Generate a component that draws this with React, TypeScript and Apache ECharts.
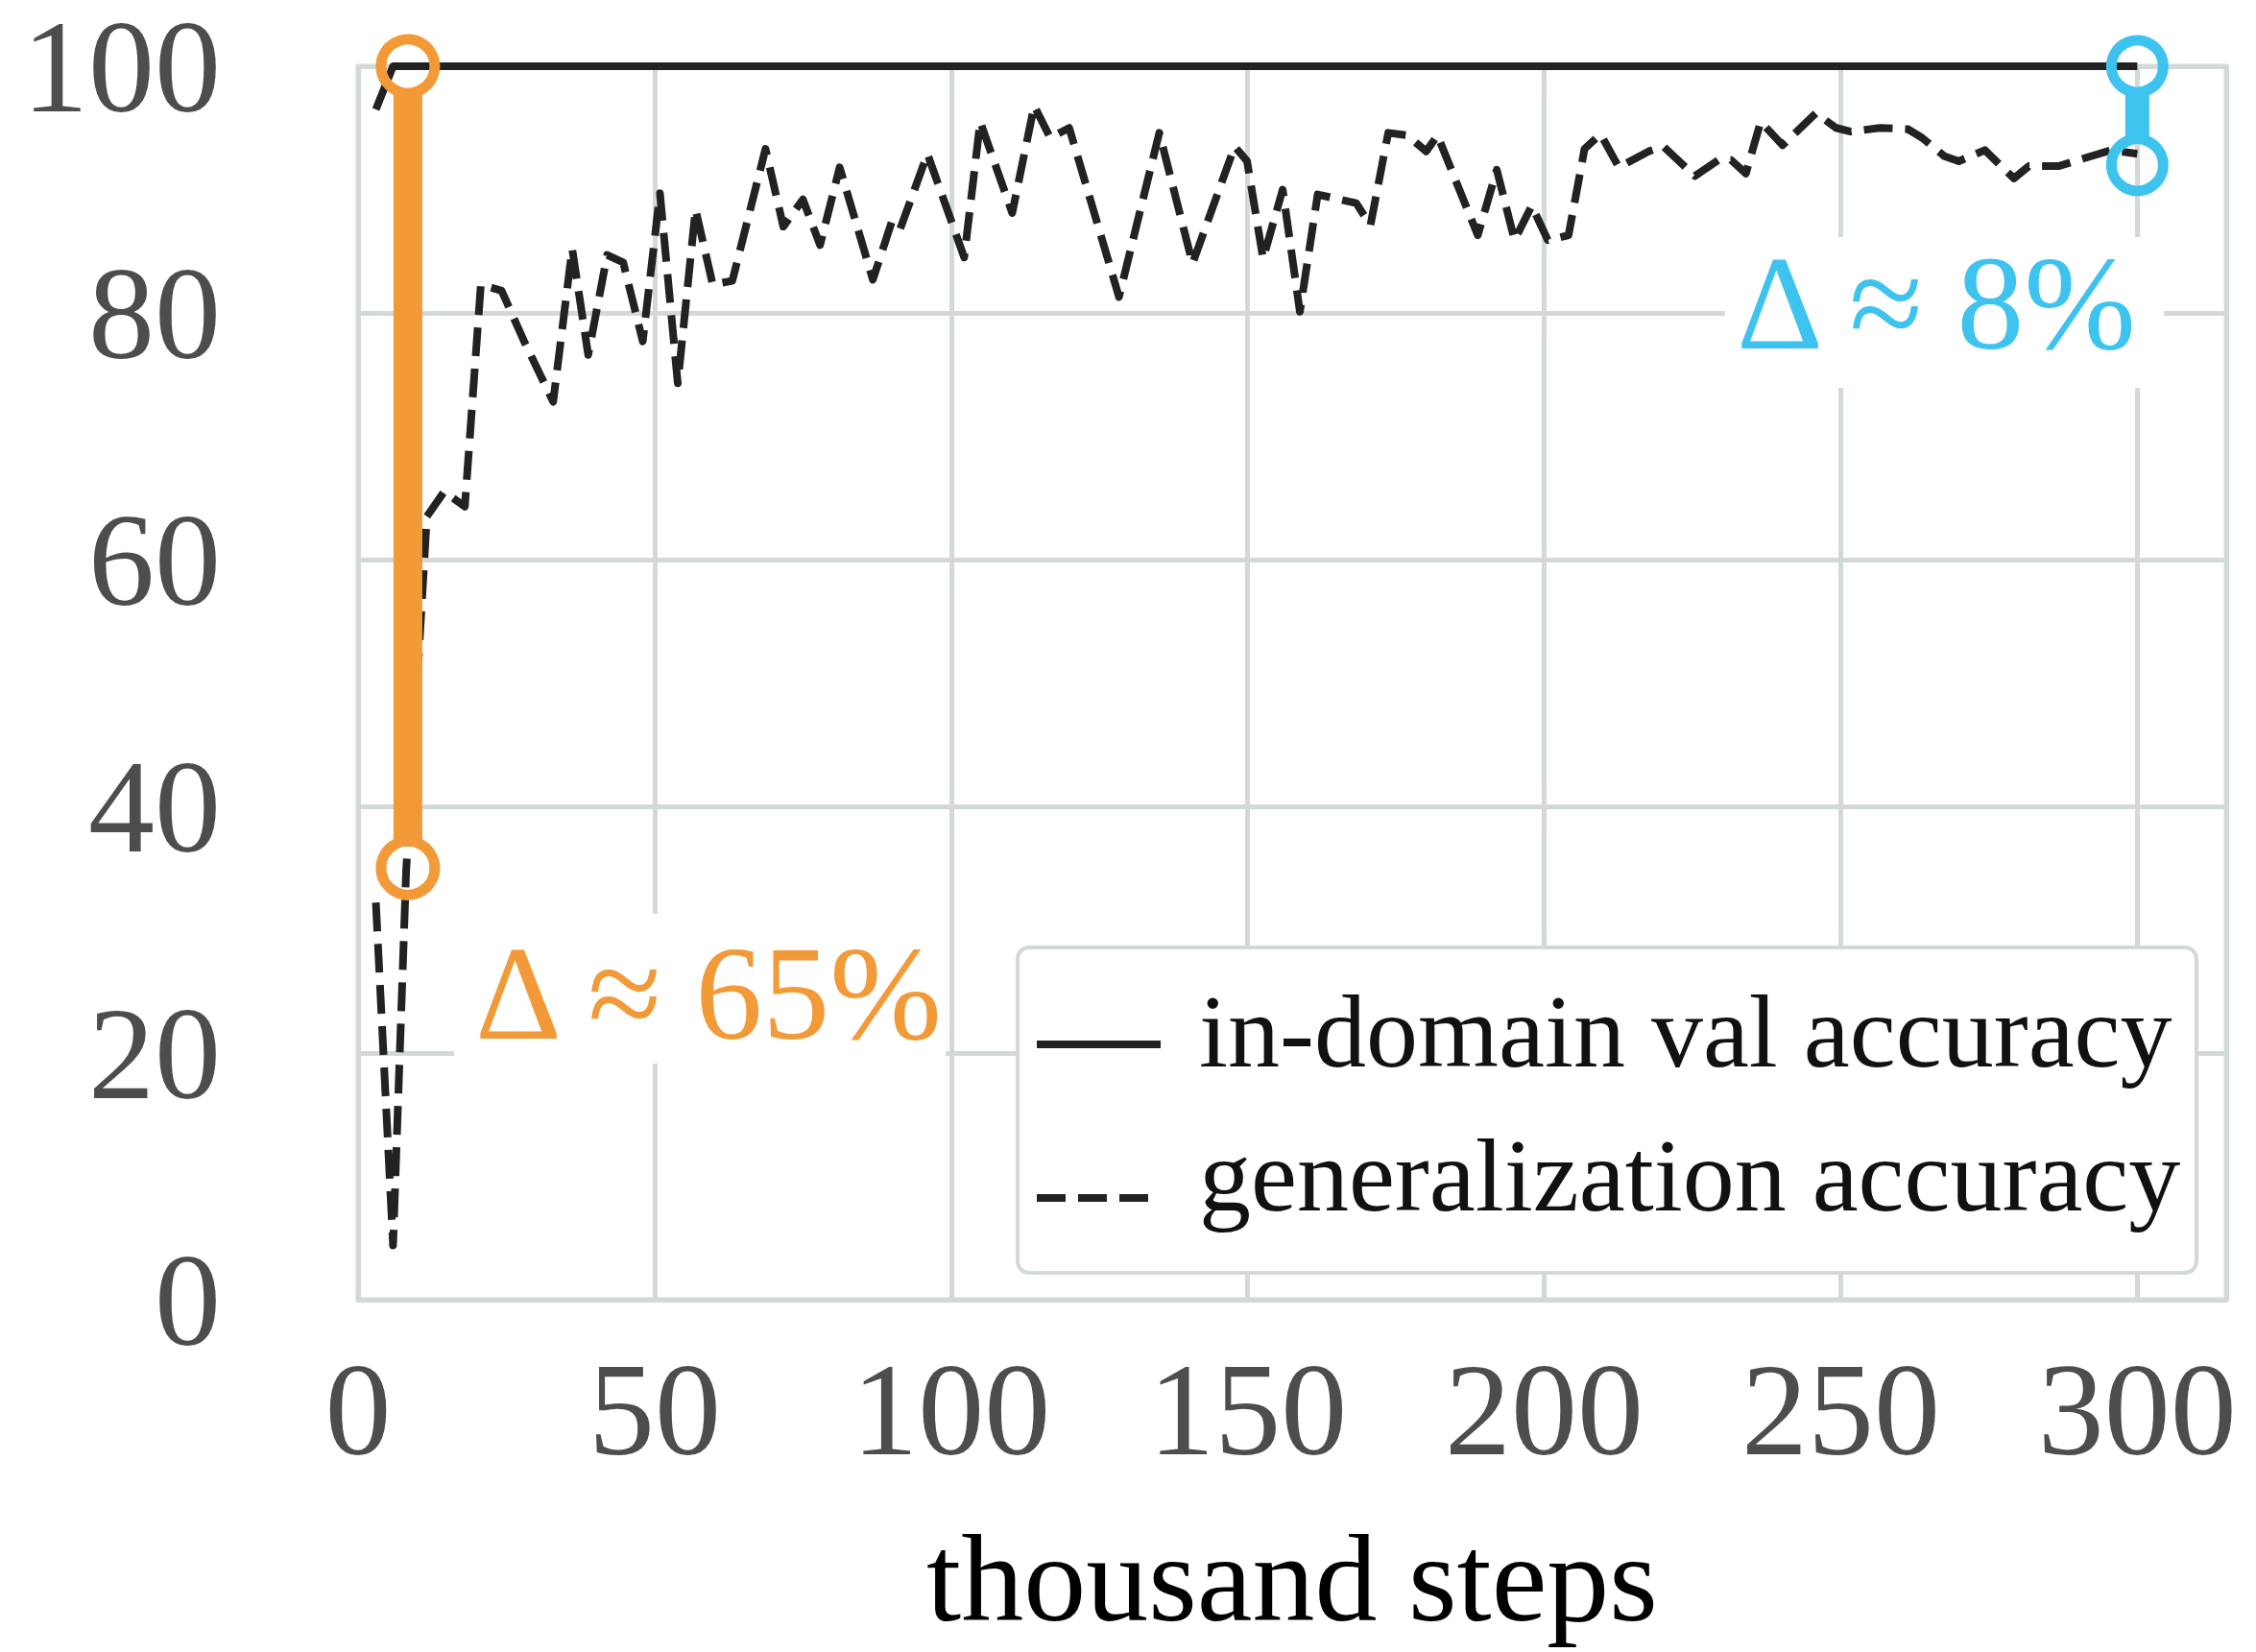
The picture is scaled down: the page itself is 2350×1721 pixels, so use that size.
import React, { useEffect, useRef } from "react";
import * as echarts from "echarts";

// ---- data -------------------------------------------------------------
// training progress in thousand steps
const steps: number[] = [
  3, 5.9, 8.1, 11.6, 14.5, 18.0, 20.7, 24.2, 28.0, 32.9,
  36.1, 38.8, 42.0, 44.7, 48.0, 50.9, 53.9, 56.9, 59.8, 63.1,
  68.7, 71.7, 75.0, 77.9, 81.2, 86.8, 90.0, 91.4, 96.0, 102.2,
  104.9, 110.3, 114.0, 116.7, 119.9, 128.3, 135.1, 140.7, 147.8, 149.9,
  152.6, 155.9, 158.8, 161.8, 168.3, 170.7, 173.7, 176.9, 180.1, 182.0,
  188.8, 192.0, 195.0, 197.9, 200.6, 204.1, 206.8, 209.5, 212.6, 217.6,
  220.1, 225.4, 229.4, 231.5, 234.0, 236.5, 240.2, 245.8, 249.2, 251.7,
  256.6, 261.3, 263.7, 267.5, 269.9, 274.3, 279.2, 281.7, 286.7, 295.6,
  300,
];

// generalization accuracy (%) at each step
const generalization: number[] = [
  32.2, 4.4, 34.7, 63.5, 65.5, 64.3, 82.3, 81.8, 77.7, 72.8,
  85.2, 76.6, 84.7, 84.1, 77.7, 89.7, 74.3, 88.4, 82.3, 82.6,
  93.3, 87.0, 89.2, 85.5, 91.8, 82.7, 87.4, 86.8, 92.9, 84.5,
  95.5, 88.1, 96.8, 94.2, 95.0, 81.3, 94.6, 84.0, 93.5, 92.3,
  84.4, 90.0, 80.1, 89.6, 88.9, 87.1, 94.6, 94.4, 93.1, 94.4,
  86.3, 91.6, 85.9, 88.7, 85.9, 86.3, 93.3, 94.5, 91.8, 93.1,
  93.5, 91.1, 92.4, 92.4, 91.3, 95.5, 93.6, 96.2, 95.0, 94.7,
  95.0, 94.9, 94.2, 92.7, 92.3, 93.2, 90.9, 91.9, 91.9, 93.2,
  92.9,
];

// in-domain validation accuracy (%) saturates almost immediately
const inDomainSteps: number[] = [3, 5.9, 300];
const inDomainValues: number[] = [96.5, 100, 100];

// generalization gap markers: step, in-domain level, gap size
const gapSteps: number[] = [8.4, 300];
const gapTop: number[] = [100, 100];
const gapDelta: number[] = [65, 8];
const gapLabels: string[] = ["Δ ≈ 65%", "Δ ≈ 8%"];

const xTickLabels: number[] = [0, 50, 100, 150, 200, 250, 300];
const yTickLabels: number[] = [0, 20, 40, 60, 80, 100];

const seriesNames: string[] = ["in-domain val accuracy", "generalization accuracy"];

// ---- styling ----------------------------------------------------------
const FONT = "'Liberation Serif', 'Times New Roman', 'DejaVu Serif', serif";
const GRID_COLOR = "#d3d9d9";
const INK = "#222222";
const TICK_COLOR = "#4d4d4d";
const ORANGE = "#f29a38";
const CYAN = "#3ec3ef";

const gapStyles = [
  { color: ORANGE, barWidth: 30, radius: 28, ring: 11 },
  { color: CYAN, barWidth: 25, radius: 27, ring: 11 },
];

const LINE_WIDTH = 8;
const DASH = [30, 13];

function buildOption(): echarts.EChartsOption {
  const gapData = gapSteps.map((s, i) => [s, gapTop[i], gapTop[i] - gapDelta[i], i]);

  return {
    animation: false,
    backgroundColor: "#ffffff",
    grid: {
      left: 373,
      right: 31,
      top: 65,
      bottom: 367,
      show: true,
      borderColor: GRID_COLOR,
      borderWidth: 5,
      backgroundColor: "transparent",
    },
    xAxis: {
      type: "value",
      min: 0,
      max: 315,
      interval: 50,
      name: "thousand steps",
      nameLocation: "middle",
      nameGap: 238,
      nameTextStyle: { fontFamily: FONT, fontSize: 130, lineHeight: 104, color: "#000000" },
      axisLine: { show: false },
      axisTick: { show: false },
      axisLabel: {
        margin: 45,
        fontFamily: FONT,
        fontSize: 138,
        lineHeight: 138,
        color: TICK_COLOR,
        formatter: (v: number) => (xTickLabels.includes(v) ? String(v) : ""),
      },
      splitLine: { show: true, lineStyle: { color: GRID_COLOR, width: 5 } },
    },
    yAxis: {
      type: "value",
      min: 0,
      max: 100,
      interval: 20,
      axisLine: { show: false },
      axisTick: { show: false },
      axisLabel: {
        margin: 143,
        fontFamily: FONT,
        fontSize: 138,
        lineHeight: 110,
        color: TICK_COLOR,
        formatter: (v: number) => (yTickLabels.includes(v) ? String(v) : ""),
      },
      splitLine: { show: true, lineStyle: { color: GRID_COLOR, width: 5 } },
    },
    series: [
      {
        name: seriesNames[0],
        type: "line",
        data: inDomainSteps.map((s, i) => [s, inDomainValues[i]]),
        symbol: "none",
        clip: false,
        z: 2,
        lineStyle: { color: INK, width: LINE_WIDTH, join: "round" },
      },
      {
        name: seriesNames[1],
        type: "line",
        data: steps.map((s, i) => [s, generalization[i]]),
        symbol: "none",
        clip: false,
        z: 2,
        lineStyle: { color: INK, width: LINE_WIDTH, type: DASH, cap: "butt", join: "round" },
      },
      {
        type: "custom",
        clip: false,
        z: 4,
        data: gapData,
        renderItem: (_params: any, api: any) => {
          const st = gapStyles[api.value(3)];
          const a = api.coord([api.value(0), api.value(1)]);
          const b = api.coord([api.value(0), api.value(2)]);
          const r = st.radius;
          return {
            type: "group",
            children: [
              {
                type: "line",
                shape: { x1: a[0], y1: a[1] + r, x2: b[0], y2: b[1] - r },
                style: { stroke: st.color, lineWidth: st.barWidth },
              },
              {
                type: "circle",
                shape: { cx: a[0], cy: a[1], r },
                style: { fill: "none", stroke: st.color, lineWidth: st.ring },
              },
              {
                type: "circle",
                shape: { cx: b[0], cy: b[1], r },
                style: { fill: "none", stroke: st.color, lineWidth: st.ring },
              },
            ],
          };
        },
      },
    ],
    graphic: [
      // gap labels on white boxes
      {
        type: "rect",
        z: 10,
        shape: { x: 473, y: 952, width: 512, height: 156 },
        style: { fill: "#ffffff" },
      },
      {
        type: "text",
        z: 11,
        x: 495,
        y: 1034,
        style: {
          text: gapLabels[0],
          fontFamily: FONT,
          fontSize: 140,
          fill: gapStyles[0].color,
          align: "left",
          verticalAlign: "middle",
        },
      },
      {
        type: "rect",
        z: 10,
        shape: { x: 1797, y: 247, width: 457, height: 157 },
        style: { fill: "#ffffff" },
      },
      {
        type: "text",
        z: 11,
        x: 1809,
        y: 315,
        style: {
          text: gapLabels[1],
          fontFamily: FONT,
          fontSize: 140,
          fill: gapStyles[1].color,
          align: "left",
          verticalAlign: "middle",
        },
      },
      // legend box
      {
        type: "rect",
        z: 10,
        shape: { x: 1060, y: 987, width: 1228, height: 339, r: 12 },
        style: { fill: "#ffffff", stroke: GRID_COLOR, lineWidth: 4 },
      },
      {
        type: "line",
        z: 11,
        shape: { x1: 1080, y1: 1088, x2: 1209, y2: 1088 },
        style: { stroke: INK, lineWidth: LINE_WIDTH },
      },
      {
        type: "line",
        z: 11,
        shape: { x1: 1080, y1: 1248, x2: 1209, y2: 1248 },
        style: { stroke: INK, lineWidth: LINE_WIDTH, lineDash: DASH },
      },
      {
        type: "text",
        z: 11,
        x: 1249,
        y: 1074,
        style: {
          text: seriesNames[0],
          fontFamily: FONT,
          fontSize: 108,
          fill: "#111111",
          align: "left",
          verticalAlign: "middle",
        },
      },
      {
        type: "text",
        z: 11,
        x: 1249,
        y: 1224,
        style: {
          text: seriesNames[1],
          fontFamily: FONT,
          fontSize: 108,
          fill: "#111111",
          align: "left",
          verticalAlign: "middle",
        },
      },
    ],
  } as echarts.EChartsOption;
}

export default function App() {
  const ref = useRef<HTMLDivElement>(null);

  useEffect(() => {
    if (!ref.current) return;
    const chart = echarts.init(ref.current, undefined, { renderer: "svg" });
    chart.setOption(buildOption());
    return () => chart.dispose();
  }, []);

  return (
    <div
      ref={ref}
      style={{ position: "absolute", left: 0, top: 0, width: 2350, height: 1721, background: "#ffffff" }}
    />
  );
}
